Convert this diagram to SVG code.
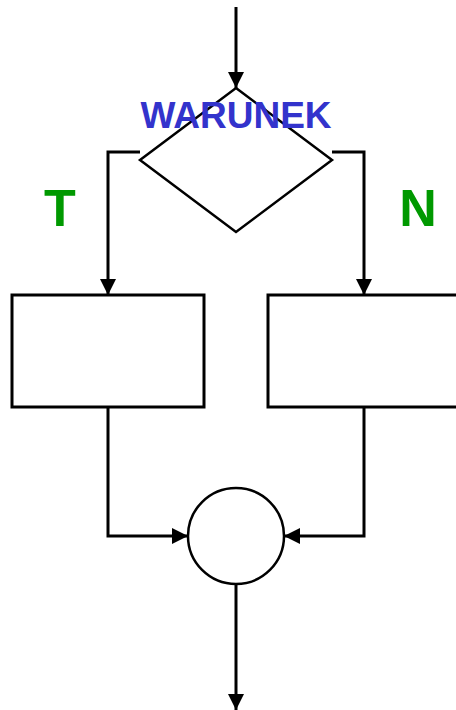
<svg xmlns="http://www.w3.org/2000/svg" width="456" height="710" viewBox="0 0 456 710">
<style>
.ln{fill:none;stroke:#000;stroke-width:3}
.sh{fill:#fff;stroke:#000}
.lbl{font-family:"Liberation Sans",Arial,sans-serif;font-weight:bold}
</style>
<defs>
<marker id="ah" viewBox="0 0 16 16" refX="16" refY="8" markerWidth="16" markerHeight="16" markerUnits="userSpaceOnUse" orient="auto">
<path d="M0,0 L16,8 L0,16 Z" fill="#000"/>
</marker>
</defs>
<rect width="456" height="710" fill="#fff"/>
<g id="connectors">
<line class="ln" x1="236" y1="7" x2="236" y2="88" marker-end="url(#ah)"/>
<polyline class="ln" points="140,152 108,152 108,295" marker-end="url(#ah)"/>
<polyline class="ln" points="332,152 364,152 364,295" marker-end="url(#ah)"/>
<polyline class="ln" points="108,407 108,536 188,536" marker-end="url(#ah)"/>
<polyline class="ln" points="364,407 364,536 284,536" marker-end="url(#ah)"/>
<line class="ln" x1="236" y1="584" x2="236" y2="710" marker-end="url(#ah)"/>
</g>
<g id="decision">
<polygon class="sh" stroke-width="2.5" points="236,88 332,160 236,232 140,160"/>
<text class="lbl" x="236" y="128" font-size="37" fill="#3333cc" text-anchor="middle">WARUNEK</text>
</g>
<g id="label-T"><text class="lbl" x="60" y="226" font-size="52" fill="#009900" text-anchor="middle">T</text></g>
<g id="label-N"><text class="lbl" x="418" y="226" font-size="52" fill="#009900" text-anchor="middle">N</text></g>
<g id="block-T"><rect class="sh" stroke-width="3" x="12" y="295" width="192" height="112"/></g>
<g id="block-N"><rect class="sh" stroke-width="3" x="268" y="295" width="192" height="112"/></g>
<g id="join"><circle class="sh" stroke-width="2.5" cx="236" cy="536" r="48"/></g>
</svg>
